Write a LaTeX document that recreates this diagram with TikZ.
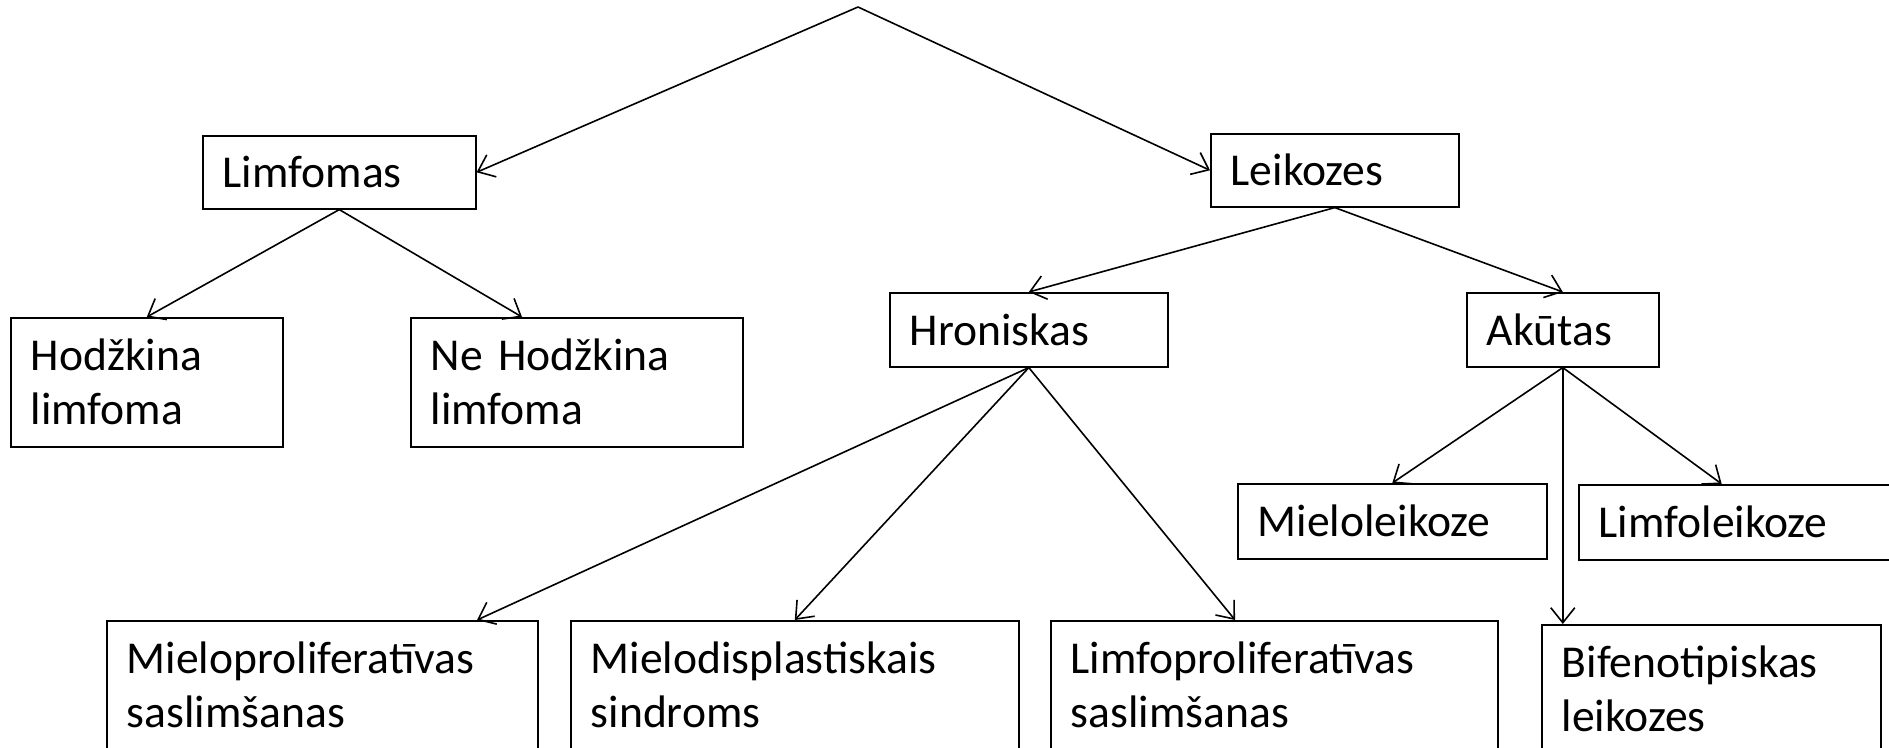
\documentclass[tikz,border=0pt]{standalone}
\usepackage{fontspec}
\setmainfont{Carlito}
\usetikzlibrary{arrows.meta,positioning}

\begin{document}
\begin{tikzpicture}[x=0.5pt, y=-0.5pt, >={Straight Barb[length=7.5pt,width=12pt]},
 line width=0.8pt,
 box/.style 2 args={draw, anchor=north west, inner xsep=10pt, inner ysep=0pt,
  text width=#1, minimum height=#2, align=left,
  font=\fontsize{22.8}{27}\selectfont}]
\useasboundingbox (0,0) rectangle (1889,748);
\coordinate (root) at (858,7);
\node[box={116.5pt}{36.5pt}] (limfomas) at (202,135) {Limfomas};
\node[box={104pt}{36.5pt}] (leikozes) at (1210,133) {Leikozes};
\node[box={116pt}{64.5pt}] (hodzkina) at (10,317) {Hodžkina\\limfoma};
\node[box={146pt}{64.5pt}] (nehodzkina) at (410,317) {Ne Hodžkina\\limfoma};
\node[box={119pt}{37pt}] (hroniskas) at (889,292) {Hroniskas};
\node[box={76pt}{37pt}] (akutas) at (1466,292) {Akūtas};
\node[box={134.5pt}{37.5pt}] (mieloleik) at (1237,483) {Mieloleikoze};
\node[box={145pt}{37.5pt}] (limfoleik) at (1578,484) {Limfoleikoze};
\node[box={195.5pt}{64.5pt}] (mieloprolif) at (106,620) {Mieloproliferatīvas\\saslimšanas};
\node[box={204pt}{64.5pt}] (mielodispl) at (570,620) {Mielodisplastiskais\\sindroms};
\node[box={203.5pt}{64.5pt}] (limfoprolif) at (1050,620) {Limfoproliferatīvas\\saslimšanas};
\node[box={149.5pt}{64.5pt}] (bifeno) at (1541,624) {Bifenotipiskas\\leikozes};
% top level
\draw[->] (root) -- (limfomas.east);
\draw[->] (root) -- (leikozes.west);
% limfomas
\draw[->] (limfomas.south) -- (hodzkina.north);
\draw[->] (limfomas.south) -- (nehodzkina.130);
% leikozes
\draw[->] (leikozes.south) -- (hroniskas.north);
\draw[->] (leikozes.south) -- (akutas.north);
\draw[->] (hroniskas.south) -- ([xshift=185.5pt]mieloprolif.north west);
\draw[->] (hroniskas.south) -- (mielodispl.north);
\draw[->] (hroniskas.south) -- (limfoprolif.121);
\draw[->] (akutas.south) -- (mieloleik.north);
\draw[->] (akutas.south) -- (limfoleik.120);
\draw[->] (akutas.south) -- (akutas.south |- bifeno.north);
\end{tikzpicture}
\end{document}
